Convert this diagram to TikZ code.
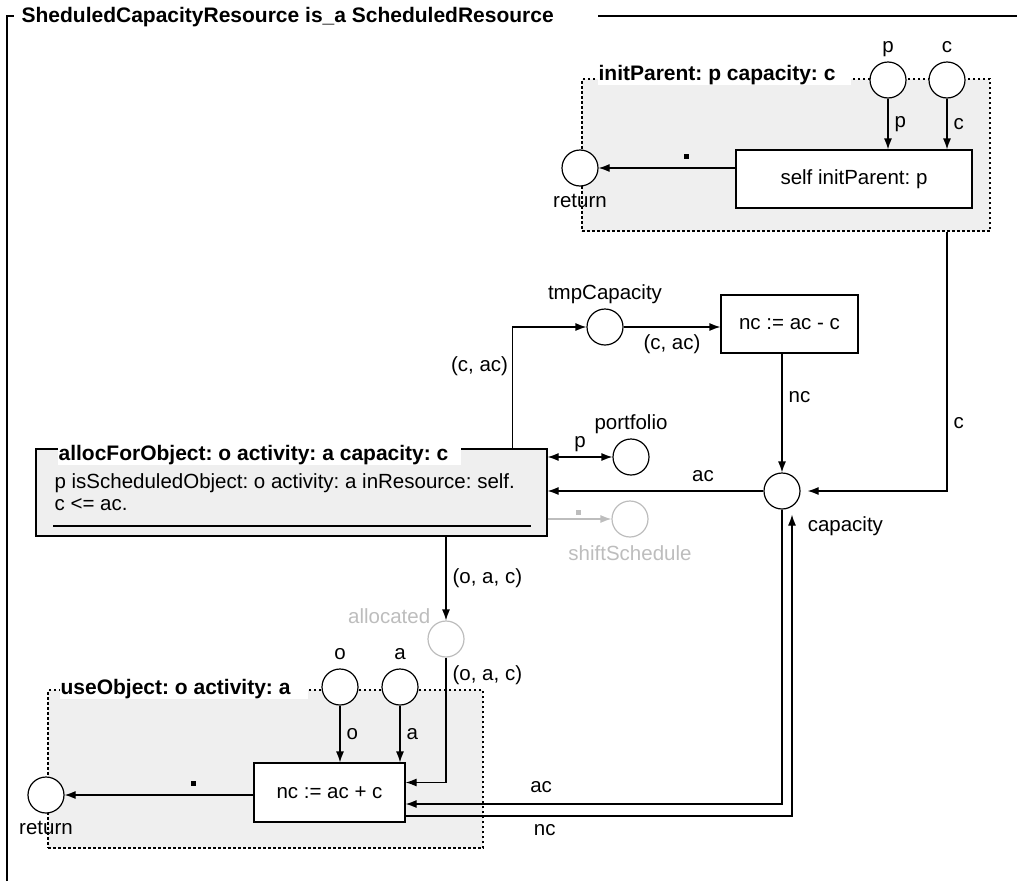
\documentclass[tikz,border=0pt]{standalone}
\usepackage{fontspec}
\setmainfont{Liberation Sans}
\usetikzlibrary{positioning,calc,arrows.meta}
\definecolor{regionfill}{HTML}{EFEFEF}
\definecolor{faded}{HTML}{BDBDBD}
\frenchspacing

\begin{document}
\begin{tikzpicture}[x=1pt,y=-1pt,line width=1.2pt,>={Latex[length=11pt,width=8pt]},
		font=\fontsize{20.5}{22}\selectfont,inner sep=2pt]
		\tikzstyle{place}=[draw, circle, fill=white, minimum size=36pt, inner sep=0pt];
		\tikzstyle{trans}=[draw, rectangle, fill=white, inner sep=0pt];
		\tikzstyle{region}=[draw, rectangle, fill=regionfill, dash pattern=on 2.5pt off 2.5pt, inner sep=0pt];
		\tikzstyle{heading}=[fill=white, anchor=west, inner xsep=1pt, inner ysep=0pt, font=\fontsize{21}{22}\selectfont\bfseries];
		\tikzstyle{arc}=[->];
		\tikzstyle{dot}=[fill, rectangle, minimum size=5pt, inner sep=0pt];
		
		\useasboundingbox (0,0) rectangle (1017,881);
		
		% frame
		\draw (7,881) -- (7,16) -- (14,16);
		\draw (598,16) -- (1017,16);
		\node[heading] (frameT) at (20,17) {SheduledCapacityResource is\_a ScheduledResource};
		
		% regions
		\node[region, minimum width=408pt, minimum height=152pt] (initParent) at (786,155) {};
		\node[heading] (initParentT) at (597,75) {initParent: p capacity: c\hspace*{14pt}};
		\node[region, minimum width=435pt, minimum height=158pt] (useObject) at (265.5,769) {};
		\node[heading] (useObjectT) at (59,689) {useObject: o activity: a\hspace*{16pt}};
		
		% initParent
		\node[place] (pP) at (888,80) {};
		\node[place] (pC) at (947,80) {};
		\node[above=9pt of pP.north, anchor=base] {p};
		\node[above=9pt of pC.north, anchor=base] {c};
		\node[trans, minimum width=236pt, minimum height=58pt] (tInit) at (854,179) {self initParent: p};
		\draw[arc] (pP) -- (pP |- tInit.north) node[midway, right=4pt] {p};
		\draw[arc] (pC) -- (pC |- tInit.north) node[midway, right=4pt] {c};
		\node[place] (rInit) at (580,168) {};
		\node[below=5pt of rInit] {return};
		\draw[arc] (tInit.west |- rInit) -- (rInit);
		\node[dot] at (686,156) {};
		
		% capacity
		\node[place] (cap) at (782,491) {};
		\node[below right=10pt and 10pt of cap] {capacity};
		\draw[arc, shorten >=7pt] (initParent.south -| pC) |- (cap) node[pos=0.37, right=4pt] {c};
		
		\node[place] (tmp) at (605,327) {};
		\node[above=9pt of tmp.north, anchor=base] {tmpCapacity};
		\node[trans, minimum width=137pt, minimum height=58pt] (tMinus) at (789.5,324) {nc := ac - c};
		\draw[arc] (tmp) -- (tmp -| tMinus.west) node[midway, below=5pt] {(c, ac)};
		\draw[arc] (cap |- tMinus.south) -- (cap) node[pos=0.37, right=4pt] {nc};
		
		% allocForObject
		\node[draw, fill=regionfill, minimum width=511pt, minimum height=87pt, inner sep=0pt] (alloc) at (291.5,492.5) {};
		\node[heading] (allocT) at (57,455) {allocForObject: o activity: a capacity: c\hspace*{12pt}};
		\node[anchor=west] (allocG) at (52,483) {p isScheduledObject: o activity: a inResource: self.};
		\node[anchor=west] (allocC) at (52,505) {c <= ac.};
		\draw (53,526) -- (531,526);
		
		\draw[arc] ($(alloc.north east)+(-35,0)$) |- (tmp) node[pos=0.34, left=2pt] {(c, ac)};
		
		\node[place] (port) at (631,457) {};
		\node[above=9pt of port.north, anchor=base] {portfolio};
		\draw[<->] (alloc.east |- port) -- (port) node[midway, above=3pt] {p};
		\draw[arc] (cap) -- (cap -| alloc.east) node[pos=0.28, above=7pt] {ac};
		
		\node[place, draw=faded] (shift) at (630,519) {};
		\node[below=5pt of shift, text=faded] {shiftSchedule};
		\draw[arc, draw=faded, fill=faded] (alloc.east |- shift) -- (shift);
		\node[dot, fill=faded] at (578,512) {};
		
		\node[place, draw=faded] (allocd) at (446,639) {};
		\node[anchor=south east, text=faded] at (allocd.north west) {allocated};
		\draw[arc] (alloc.south -| allocd) -- (allocd) node[midway, right=4pt] {(o, a, c)};
		
		% useObject
		\node[place] (pO) at (340,687) {};
		\node[place] (pA) at (400,687) {};
		\node[above=9pt of pO.north, anchor=base] {o};
		\node[above=9pt of pA.north, anchor=base] {a};
		\node[trans, minimum width=151pt, minimum height=59pt] (tPlus) at (329.5,792.5) {nc := ac + c};
		\draw[arc] (pO) -- (pO |- tPlus.north) node[midway, right=4pt] {o};
		\draw[arc] (pA) -- (pA |- tPlus.north) node[midway, right=4pt] {a};
		\node[place] (rUse) at (46,795) {};
		\node[below=5pt of rUse] {return};
		\draw[arc] (tPlus.west |- rUse) -- (rUse);
		\node[dot] at (193,783) {};
		
		\draw[arc] (allocd) |- ($(tPlus.east)+(0,-10)$) node[pos=0.07, right=4pt] {(o, a, c)};
		\draw[arc] (cap) |- ($(tPlus.east)+(0,11.5)$) node[pos=0.82, above=9pt] {ac};
		\draw[arc, shorten >=5pt] ($(tPlus.east)+(0,23.5)$) -| ($(cap.south)+(10,0)$) node[pos=0.18, below=6pt] {nc};
	\end{tikzpicture}
\end{document}
